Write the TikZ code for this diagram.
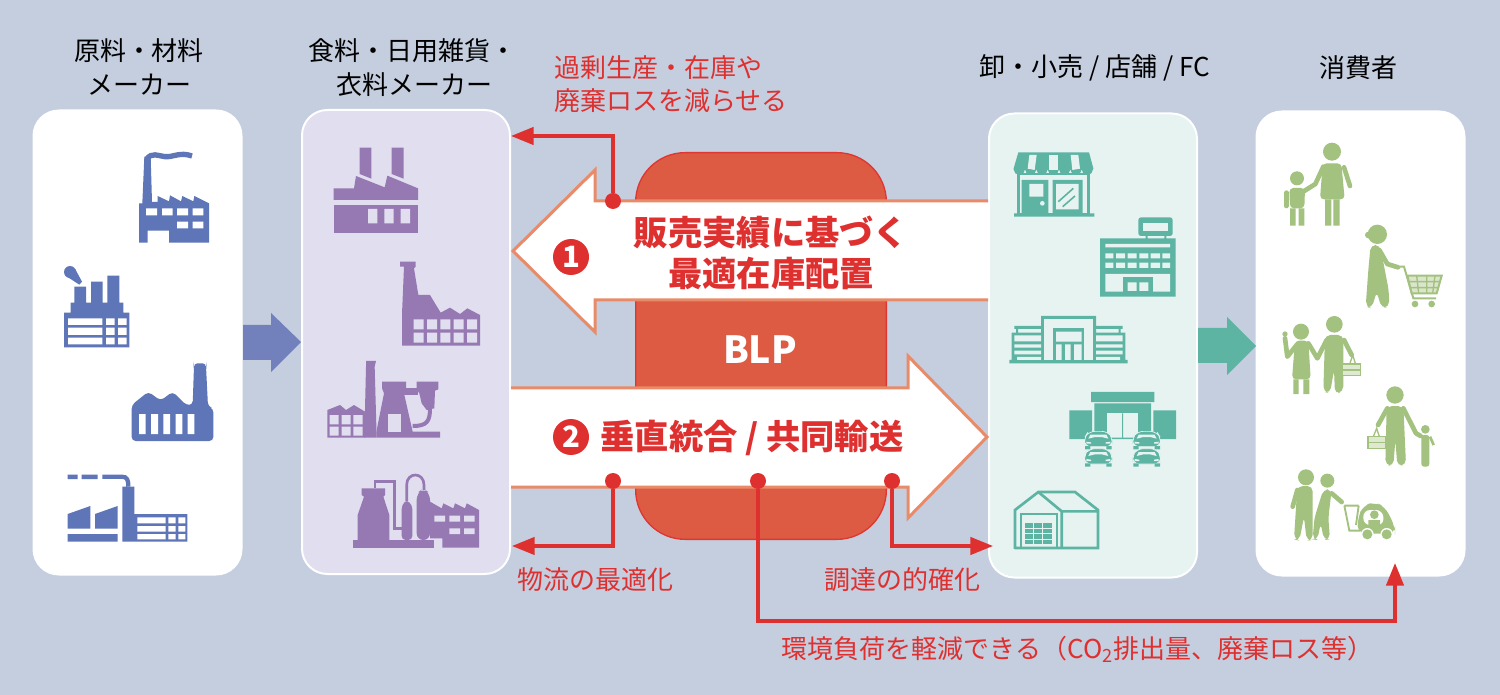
\documentclass[tikz,border=0pt]{standalone}
\usepackage{fontspec}
\setmainfont{Noto Sans CJK JP}
\usetikzlibrary{arrows.meta}

\definecolor{bgblue}{HTML}{C4CEDE}
\definecolor{boxpurple}{HTML}{E1DEF0}
\definecolor{boxteal}{HTML}{E6F3F1}
\definecolor{iconblue}{HTML}{5E75B8}
\definecolor{iconpurple}{HTML}{9679B2}
\definecolor{iconteal}{HTML}{5DB4A3}
\definecolor{icongreen}{HTML}{A3C17F}
\definecolor{arrowblue}{HTML}{7280BB}
\definecolor{blpred}{HTML}{DD5B42}
\definecolor{linered}{HTML}{DF3030}
\definecolor{arrowedge}{HTML}{E98B68}

\tikzset{
  panel/.style = {draw=white, line width=1.5pt, rounded corners=19pt, inner sep=0pt},
  caption/.style = {inner sep=0pt, font=\fontsize{19.5}{19.5}\selectfont},
  redcaption/.style = {caption, text=linered},
  bigtext/.style = {inner sep=0pt, text=linered, font=\fontsize{25.7}{25.7}\selectfont\bfseries},
  number/.style = {circle, fill=linered, text=white, inner sep=0pt, minimum size=27pt, font=\fontsize{22}{22}\selectfont\bfseries},
  reddot/.style = {circle, fill=linered, inner sep=0pt, minimum size=12pt},
  redline/.style = {draw=linered, line width=2.5pt, -{Triangle[length=17pt,width=13pt]}},
  bigarrow/.style = {draw=arrowedge, fill=white, line width=2.25pt},
  limb/.style = {draw=icongreen, line width=3.5pt, line cap=round, line join=round},
  thin limb/.style = {draw=icongreen, line width=1pt},
  zoomleft/.style = {shift={(30,110)}, x=.25pt, y=-.25pt},
  zoomright/.style = {shift={(980,110)}, x=.25pt, y=-.25pt},
  caricon/.pic = {
    \fill[iconteal, draw=boxteal, line width=.5pt, rounded corners=5pt] (-42,-6) -- (-30,-26) -- (30,-26) -- (42,-6) -- (42,20) -- (-42,20) -- cycle;
    \fill[iconteal] (-40,18) rectangle (-24,28) (24,18) rectangle (40,28);
    \fill[boxteal] (-24,-16) -- (24,-16) -- (30,-4) -- (10,-9) -- (-10,-9) -- (-30,-4) -- cycle;
    \fill[boxteal] (-36,5) -- (-22,7) -- (-22,11) -- (-36,11) -- cycle;
    \fill[boxteal] (36,5) -- (22,7) -- (22,11) -- (36,11) -- cycle;
  }
}

\begin{document}
\begin{tikzpicture}[x=.75pt, y=-.75pt]
\useasboundingbox (0,0) rectangle (1500,695);
\fill[bgblue] (0,0) rectangle (1500,695);

%% panels
\node[panel, fill=white, minimum width=156pt, minimum height=348pt] (box1) at (137.5,342.5) {};
\node[panel, fill=boxpurple, minimum width=156pt, minimum height=348pt] (box2) at (406,342) {};
\node[panel, fill=boxteal, minimum width=156pt, minimum height=348pt] (box3) at (1093,345.5) {};
\node[panel, fill=white, minimum width=156pt, minimum height=348pt] (box4) at (1360.5,343.5) {};

%% captions
\node[caption] (cap1) at (139,50.5) {原料・材料};
\node[caption] (cap2) at (139,84.5) {メーカー};
\node[caption] (cap3) at (412,50.5) {食料・日用雑貨・};
\node[caption] (cap4) at (414.5,84.5) {衣料メーカー};
\node[caption] (cap5) at (1095,67.5) {卸・小売 / 店舗 / FC};
\node[caption] (cap6) at (1358,67.5) {消費者};
\node[redcaption, anchor=west] (cap7) at (554,67.5) {過剰生産・在庫や};
\node[redcaption, anchor=west] (cap8) at (554,100.5) {廃棄ロスを減らせる};
\node[redcaption] (cap9) at (595,579.5) {物流の最適化};
\node[redcaption] (cap10) at (902,579.5) {調達の的確化};
\node[redcaption] (cap11) at (1077.5,649.5) {環境負荷を軽減できる（CO\textsubscript{2}排出量、廃棄ロス等）};

%% BLP block
\node[draw=linered!85!blpred, fill=blpred, line width=1pt, rounded corners=37pt, minimum width=188pt, minimum height=290pt, inner sep=0pt] (blp) at (761,346) {};
\node[inner sep=0pt, text=white, font=\fontsize{28}{28}\selectfont\bfseries] (blptext) at (760,350) {BLP};

%% side arrows
\fill[arrowblue] (243,325) -- (271,325) -- (271,313) -- (301,342) -- (271,372) -- (271,360) -- (243,360) -- cycle;
\fill[iconteal] (1198,328) -- (1227,328) -- (1227,317) -- (1256,346) -- (1227,375) -- (1227,363) -- (1198,363) -- cycle;

%% big arrows
\draw[bigarrow] (988,201) -- (595,201) -- (595,170) -- (513,251) -- (595,332) -- (595,300) -- (988,300);
\draw[bigarrow] (511,388) -- (908,388) -- (908,356) -- (987,437) -- (908,518) -- (908,487) -- (511,487);

\node[number] (num1) at (571,257) {1};
\node[number] (num2) at (571,437) {2};
\node[bigtext] (text1) at (771,232) {販売実績に基づく};
\node[bigtext] (text2) at (771,273) {最適在庫配置};
\node[bigtext] (text3) at (752,438) {垂直統合 / 共同輸送};

%% red connectors
\node[reddot] (dot1) at (613,201) {};
\node[reddot] (dot2) at (613,481) {};
\node[reddot] (dot3) at (758,481) {};
\node[reddot] (dot4) at (892,481) {};
\coordinate (tip1) at (511,136);
\coordinate (tip2) at (512,546);
\coordinate (turn3) at (1395,621);
\coordinate (tip3) at (1395,563);
\coordinate (tip4) at (993,546);
\draw[redline] (dot1) |- (tip1);
\draw[redline] (dot2) |- (tip2);
\draw[redline] (dot3) |- (turn3) -- (tip3);
\draw[redline] (dot4) |- (tip4);

%% raw material makers
\begin{scope}[zoomleft]
\fill[iconblue] (327,398) -- (327,280) -- (337,280) -- (343,140) -- (362,140) -- (366,276) -- (383,276) -- (383,258) -- (417,274) -- (420,256) -- (453,274) -- (457,258) -- (490,274) -- (493,258) -- (537,280) -- (537,398) -- (417,398) -- (417,362) -- (353,362) -- (353,398) -- cycle;
\draw[iconblue, line width=4pt] (350,148) .. controls (365,125) and (385,138) .. (405,140) .. controls (430,142) and (450,125) .. (486,138);
\fill[white] (348,295) rectangle (381,316) (396,295) rectangle (428,316) (441,295) rectangle (474,316) (488,295) rectangle (520,316) (441,335) rectangle (474,355) (488,335) rectangle (520,355);

\fill[iconblue] (120,486) circle (18);
\fill[iconblue] (105,496) -- (135,476) -- (156,515) -- (148,524) -- cycle;
\fill[iconblue] (133,530) rectangle (168,585) (183,515) rectangle (218,585) (232,497) rectangle (268,585) (122,578) rectangle (280,610) (102,608) rectangle (298,712);
\fill[white] (114,625) rectangle (217,645) (114,653) rectangle (217,675) (114,683) rectangle (217,703) (228,625) rectangle (254,645) (228,653) rectangle (254,675) (228,683) rectangle (254,703) (264,625) rectangle (290,645) (264,653) rectangle (290,675) (264,683) rectangle (290,703);

\fill[iconblue, rounded corners=3pt] (305,993) -- (305,885) -- (355,845) -- (392,872) -- (428,845) -- (468,885) -- (488,885) -- (492,768) -- (490,760) -- (530,760) -- (528,768) -- (534,890) -- (550,895) -- (550,993) -- cycle;
\fill[white] (327,912) rectangle (347,972) (363,912) rectangle (384,972) (400,912) rectangle (420,972) (437,912) rectangle (457,972) (473,912) rectangle (493,972);

\fill[iconblue] (113,1094) rectangle (143,1107) (155,1094) rectangle (203,1107);
\draw[iconblue, line width=3.2pt] (217,1100) -- (275,1100) .. controls (292,1100) and (295,1110) .. (295,1130);
\fill[iconblue] (277,1130) rectangle (313,1295) (113,1272) rectangle (263,1295) (313,1212) rectangle (472,1295);
\fill[iconblue] (113,1212) -- (181,1188) -- (181,1256) -- (113,1256) -- cycle;
\fill[iconblue] (195,1212) -- (263,1188) -- (263,1256) -- (195,1256) -- cycle;
\fill[white] (322,1222) rectangle (407,1240) (322,1248) rectangle (407,1265) (322,1272) rectangle (407,1288) (415,1222) rectangle (437,1240) (415,1248) rectangle (437,1265) (415,1272) rectangle (437,1288) (445,1222) rectangle (466,1240) (445,1248) rectangle (466,1265) (445,1272) rectangle (466,1288);

%% maker icons
\fill[iconpurple] (989,113) -- (1024,113) -- (1024,206) -- (989,192) -- cycle;
\fill[iconpurple] (1085,113) -- (1121,113) -- (1121,206) -- (1085,192) -- cycle;
\fill[iconpurple] (911,235) -- (972,235) -- (978,198) -- (1064,232) -- (1072,197) -- (1164,235) -- (1164,270) -- (911,270) -- cycle;
\fill[iconpurple] (911,284) rectangle (1164,369);
\fill[boxpurple] (1014,297) rectangle (1042,340) (1063,297) rectangle (1091,340) (1112,297) rectangle (1140,340);

\fill[iconpurple] (1110,455) -- (1157,455) -- (1157,470) -- (1152,475) -- (1165,555) -- (1200,555) -- (1232,608) -- (1260,593) -- (1290,612) -- (1312,595) -- (1350,615) -- (1350,707) -- (1116,707) -- (1116,612) -- (1122,470) -- (1110,470) -- cycle;
\fill[boxpurple] (1151,628) rectangle (1181,658) (1191,628) rectangle (1221,658) (1231,628) rectangle (1261,658) (1271,628) rectangle (1301,658) (1311,628) rectangle (1341,658) (1151,668) rectangle (1181,698) (1191,668) rectangle (1221,698) (1231,668) rectangle (1261,698) (1271,668) rectangle (1301,698) (1311,668) rectangle (1341,698);

\fill[iconpurple] (892,900) -- (930,885) -- (948,900) -- (972,885) -- (1005,905) -- (1005,983) -- (892,983) -- cycle;
\fill[boxpurple] (899,915) rectangle (926,943) (935,915) rectangle (962,943) (970,915) rectangle (998,943) (899,950) rectangle (926,977) (935,950) rectangle (962,977) (970,950) rectangle (998,977);
\fill[iconpurple] (1008,753) -- (1038,753) -- (1034,770) -- (1040,983) -- (1003,983) -- (1008,770) -- cycle;
\fill[iconpurple] (1056,815) -- (1128,815) -- (1128,835) -- (1122,850) -- (1148,965) -- (1230,965) -- (1230,983) -- (1040,983) -- (1040,960) -- (1062,850) -- (1056,835) -- cycle;
\fill[iconpurple] (1160,815) -- (1225,815) -- (1225,838) -- (1215,842) -- (1213,895) -- (1190,900) -- (1175,880) -- (1168,850) -- (1160,838) -- cycle;
\fill[iconpurple] (1122,835) rectangle (1165,855);
\draw[iconpurple, line width=3pt] (1200,895) .. controls (1200,935) and (1190,948) .. (1148,948);
\fill[boxpurple] (1074,912) rectangle (1112,965);

\fill[iconpurple] (969,1290) rectangle (1213,1313);
\fill[iconpurple] (995,1135) -- (1065,1135) -- (1065,1155) -- (1060,1160) -- (1078,1215) -- (1078,1290) -- (983,1290) -- (983,1215) -- (1002,1160) -- (995,1155) -- cycle;
\draw[iconpurple, line width=2pt] (1035,1135) -- (1035,1115) -- (1093,1115) -- (1093,1255) -- (1115,1255);
\fill[iconpurple, rounded corners=3pt] (1115,1290) -- (1115,1185) -- (1130,1170) -- (1147,1185) -- (1147,1290) -- cycle;
\fill[iconpurple, rounded corners=5pt] (1160,1290) -- (1160,1150) -- (1180,1135) -- (1200,1150) -- (1200,1290) -- cycle;
\draw[iconpurple, line width=2pt] (1130,1175) -- (1130,1125) .. controls (1130,1085) and (1182,1085) .. (1182,1125) -- (1182,1140);
\fill[iconpurple] (1200,1175) -- (1235,1195) -- (1240,1180) -- (1270,1195) -- (1275,1180) -- (1305,1195) -- (1310,1180) -- (1347,1200) -- (1347,1313) -- (1237,1313) -- (1237,1285) -- (1200,1285) -- cycle;
\fill[boxpurple] (1213,1217) rectangle (1245,1235) (1258,1217) rectangle (1290,1235) (1302,1217) rectangle (1334,1235) (1258,1255) rectangle (1290,1272) (1302,1255) rectangle (1334,1272);
\end{scope}

%% shops
\begin{scope}[zoomright]
\fill[iconteal] (112,190) rectangle (330,315);
\fill[boxteal] (120,195) rectangle (322,310);
\fill[iconteal] (102,310) rectangle (343,320) (125,210) rectangle (205,310) (218,210) rectangle (308,310);
\fill[boxteal] (148,222) rectangle (190,260) (187,280) circle (7) (228,222) rectangle (296,298);
\draw[iconteal, line width=1.2pt] (235,275) -- (280,235) (248,290) -- (285,258);
\fill[iconteal] (115,127) -- (327,127) -- (340,175) -- (340,178) -- (101,178) -- (101,175) -- cycle;
\fill[iconteal] (118,178) circle (17) (152,178) circle (17) (186,178) circle (17) (220,178) circle (17) (254,178) circle (17) (288,178) circle (17) (322,178) circle (17);
\fill[boxteal] (148,135) -- (170,135) -- (164,180) -- (143,176) -- cycle;
\fill[boxteal] (208,135) -- (233,135) -- (233,180) -- (208,180) -- cycle;
\fill[boxteal] (272,135) -- (295,135) -- (300,176) -- (277,180) -- cycle;

\fill[iconteal, rounded corners=2pt] (475,322) rectangle (578,378);
\fill[boxteal] (490,338) rectangle (563,362);
\fill[iconteal] (497,378) rectangle (503,385) (553,378) rectangle (559,385) (360,385) rectangle (587,560);
\fill[boxteal] (376,402) rectangle (570,412) (376,492) rectangle (570,545);
\fill[boxteal] (376,430) rectangle (400,445) (408,430) rectangle (435,445) (443,430) rectangle (470,445) (478,430) rectangle (505,445) (512,430) rectangle (540,445) (547,430) rectangle (570,445) (376,458) rectangle (400,474) (408,458) rectangle (435,474) (443,458) rectangle (470,474) (478,458) rectangle (505,474) (512,458) rectangle (540,474) (547,458) rectangle (570,474);
\fill[iconteal] (428,500) rectangle (518,545);
\fill[boxteal] (443,517) rectangle (470,543) (478,517) rectangle (505,543);

\fill[iconteal] (88,750) rectangle (443,760) (183,618) rectangle (348,750) (95,668) rectangle (183,750) (348,668) rectangle (436,750) (103,648) rectangle (183,657) (348,648) rectangle (428,657) (108,657) rectangle (114,668) (416,657) rectangle (422,668);
\fill[boxteal] (192,628) rectangle (340,750);
\fill[iconteal] (218,655) rectangle (313,750);
\fill[boxteal] (228,665) rectangle (305,695) (228,703) rectangle (245,750) (255,703) rectangle (272,750) (282,703) rectangle (305,750);
\fill[boxteal] (103,676) rectangle (183,694) (103,703) rectangle (183,713) (103,722) rectangle (183,733) (111,741) rectangle (183,750) (348,676) rectangle (428,694) (348,703) rectangle (428,713) (348,722) rectangle (428,733) (348,741) rectangle (420,750);

\fill[iconteal] (333,846) rectangle (523,876) (343,880) rectangle (513,985) (268,901) rectangle (336,987) (520,901) rectangle (588,987);
\fill[boxteal] (380,910) rectangle (475,985);
\fill[iconteal] (426,910) rectangle (429,985) (380,983) rectangle (475,987);
\pic at (355,990) {caricon};
\pic at (500,990) {caricon};
\pic at (355,1042) {caricon};
\pic at (500,1042) {caricon};

\draw[iconteal, line width=2pt] (105,1317) -- (105,1200) -- (175,1146) -- (285,1146) -- (354,1200) -- (354,1314) -- (105,1314);
\draw[iconteal, line width=2pt] (175,1146) -- (245,1204) -- (354,1204) (245,1204) -- (245,1314);
\draw[iconteal, line width=1.5pt] (122,1314) -- (122,1212) -- (230,1212) -- (230,1314);
\fill[iconteal] (135,1238) rectangle (215,1303);
\draw[boxteal, line width=.7pt] (135,1254) -- (215,1254) (135,1270) -- (215,1270) (135,1287) -- (215,1287) (161,1238) -- (161,1303) (188,1238) -- (188,1303);

%% people
\fill[icongreen] (1056,125) circle (27) (951,205) circle (21);
\fill[icongreen, rounded corners=3pt] (1028,160) -- (1084,160) -- (1094,268) -- (1020,268) -- cycle;
\fill[icongreen] (1035,268) rectangle (1054,347) (1060,268) rectangle (1079,347);
\draw[limb] (1092,172) -- (1110,228);
\draw[limb] (1030,170) -- (1006,222) -- (968,246);
\fill[icongreen, rounded corners=3pt] (928,234) -- (975,234) -- (973,295) -- (930,295) -- cycle;
\fill[icongreen] (930,295) rectangle (947,347) (956,295) rectangle (973,347);
\draw[limb] (919,248) -- (919,288);

\fill[icongreen] (1192,373) circle (29) (1165,375) circle (10);
\fill[icongreen, rounded corners=4pt] (1172,405) -- (1200,405) -- (1226,540) -- (1228,590) -- (1205,595) -- (1190,545) -- (1175,595) -- (1157,590) -- (1165,480) -- cycle;
\draw[limb] (1198,420) -- (1222,462) -- (1254,472);
\draw[icongreen, line width=1.5pt] (1258,470) -- (1272,470) -- (1300,565) -- (1368,565);
\draw[icongreen, line width=1.5pt, fill=icongreen!40] (1282,497) -- (1385,497) -- (1370,550) -- (1295,550) -- cycle;
\draw[icongreen, line width=1pt] (1288,515) -- (1380,515) (1292,533) -- (1375,533) (1310,497) -- (1316,550) (1340,497) -- (1340,550) (1365,497) -- (1358,550);
\fill[icongreen] (1305,582) circle (10) (1355,582) circle (10);

\fill[icongreen] (963,665) circle (24) (1063,643) circle (25) (915,672) circle (8);
\fill[icongreen, rounded corners=3pt] (945,692) -- (985,692) -- (992,808) -- (936,808) -- cycle;
\fill[icongreen] (940,808) rectangle (956,852) (970,808) rectangle (988,852);
\draw[limb] (950,705) -- (922,740) -- (915,685);
\draw[limb] (985,700) -- (1012,745) -- (1040,690);
\fill[icongreen, rounded corners=4pt] (1035,675) -- (1090,675) -- (1090,845) -- (1065,852) -- (1062,780) -- (1050,850) -- (1030,845) -- cycle;
\draw[limb] (1092,690) -- (1115,735);
\draw[thin limb] (1110,760) -- (1118,735) -- (1126,760);
\draw[icongreen, line width=1pt, fill=icongreen!35] (1088,762) rectangle (1142,797);
\draw[icongreen, line width=1pt] (1088,780) -- (1142,780);

\fill[icongreen] (1245,855) circle (26) (1336,958) circle (13);
\fill[icongreen, rounded corners=4pt] (1220,888) -- (1270,888) -- (1278,1065) -- (1252,1068) -- (1246,990) -- (1240,1068) -- (1216,1065) -- cycle;
\draw[limb] (1222,895) -- (1194,945);
\draw[limb] (1270,895) -- (1308,970) -- (1322,978);
\fill[icongreen, rounded corners=2pt] (1324,975) -- (1348,975) -- (1348,1070) -- (1324,1070) -- cycle;
\draw[icongreen, line width=2pt] (1350,980) -- (1361,1005);
\draw[thin limb] (1180,980) -- (1190,955) -- (1198,980);
\draw[icongreen, line width=1pt, fill=icongreen!35] (1164,980) rectangle (1218,1015);
\draw[icongreen, line width=1pt] (1164,997) -- (1218,997);

\fill[icongreen] (978,1102) circle (24) (1042,1112) circle (21);
\fill[icongreen, rounded corners=4pt] (952,1128) -- (998,1128) -- (998,1290) -- (980,1292) -- (972,1220) -- (958,1292) -- (942,1288) -- cycle;
\draw[limb] (952,1140) -- (938,1190);
\fill[icongreen, rounded corners=4pt] (1030,1138) -- (1055,1138) -- (1045,1225) -- (1050,1288) -- (1032,1290) -- (1022,1240) -- (1012,1290) -- (998,1288) -- (1003,1225) -- cycle;
\draw[limb] (1055,1150) -- (1085,1176);
\draw[icongreen, line width=1.4pt] (1093,1187) -- (1136,1187) (1093,1187) -- (1108,1262) -- (1140,1262) (1136,1187) -- (1128,1245);
\fill[icongreen, rounded corners=6pt] (1133,1270) -- (1133,1225) -- (1150,1185) -- (1185,1177) -- (1215,1190) -- (1245,1250) -- (1245,1272) -- cycle;
\fill[white, rounded corners=5pt] (1150,1200) -- (1208,1200) -- (1212,1245) -- (1150,1245) -- cycle;
\fill[icongreen] (1183,1214) circle (13) (1165,1230) rectangle (1200,1250);
\fill[white] (1162,1273) circle (19) (1220,1273) circle (19);
\fill[icongreen] (1162,1273) circle (15) (1220,1273) circle (15);
\end{scope}

\end{tikzpicture}
\end{document}
